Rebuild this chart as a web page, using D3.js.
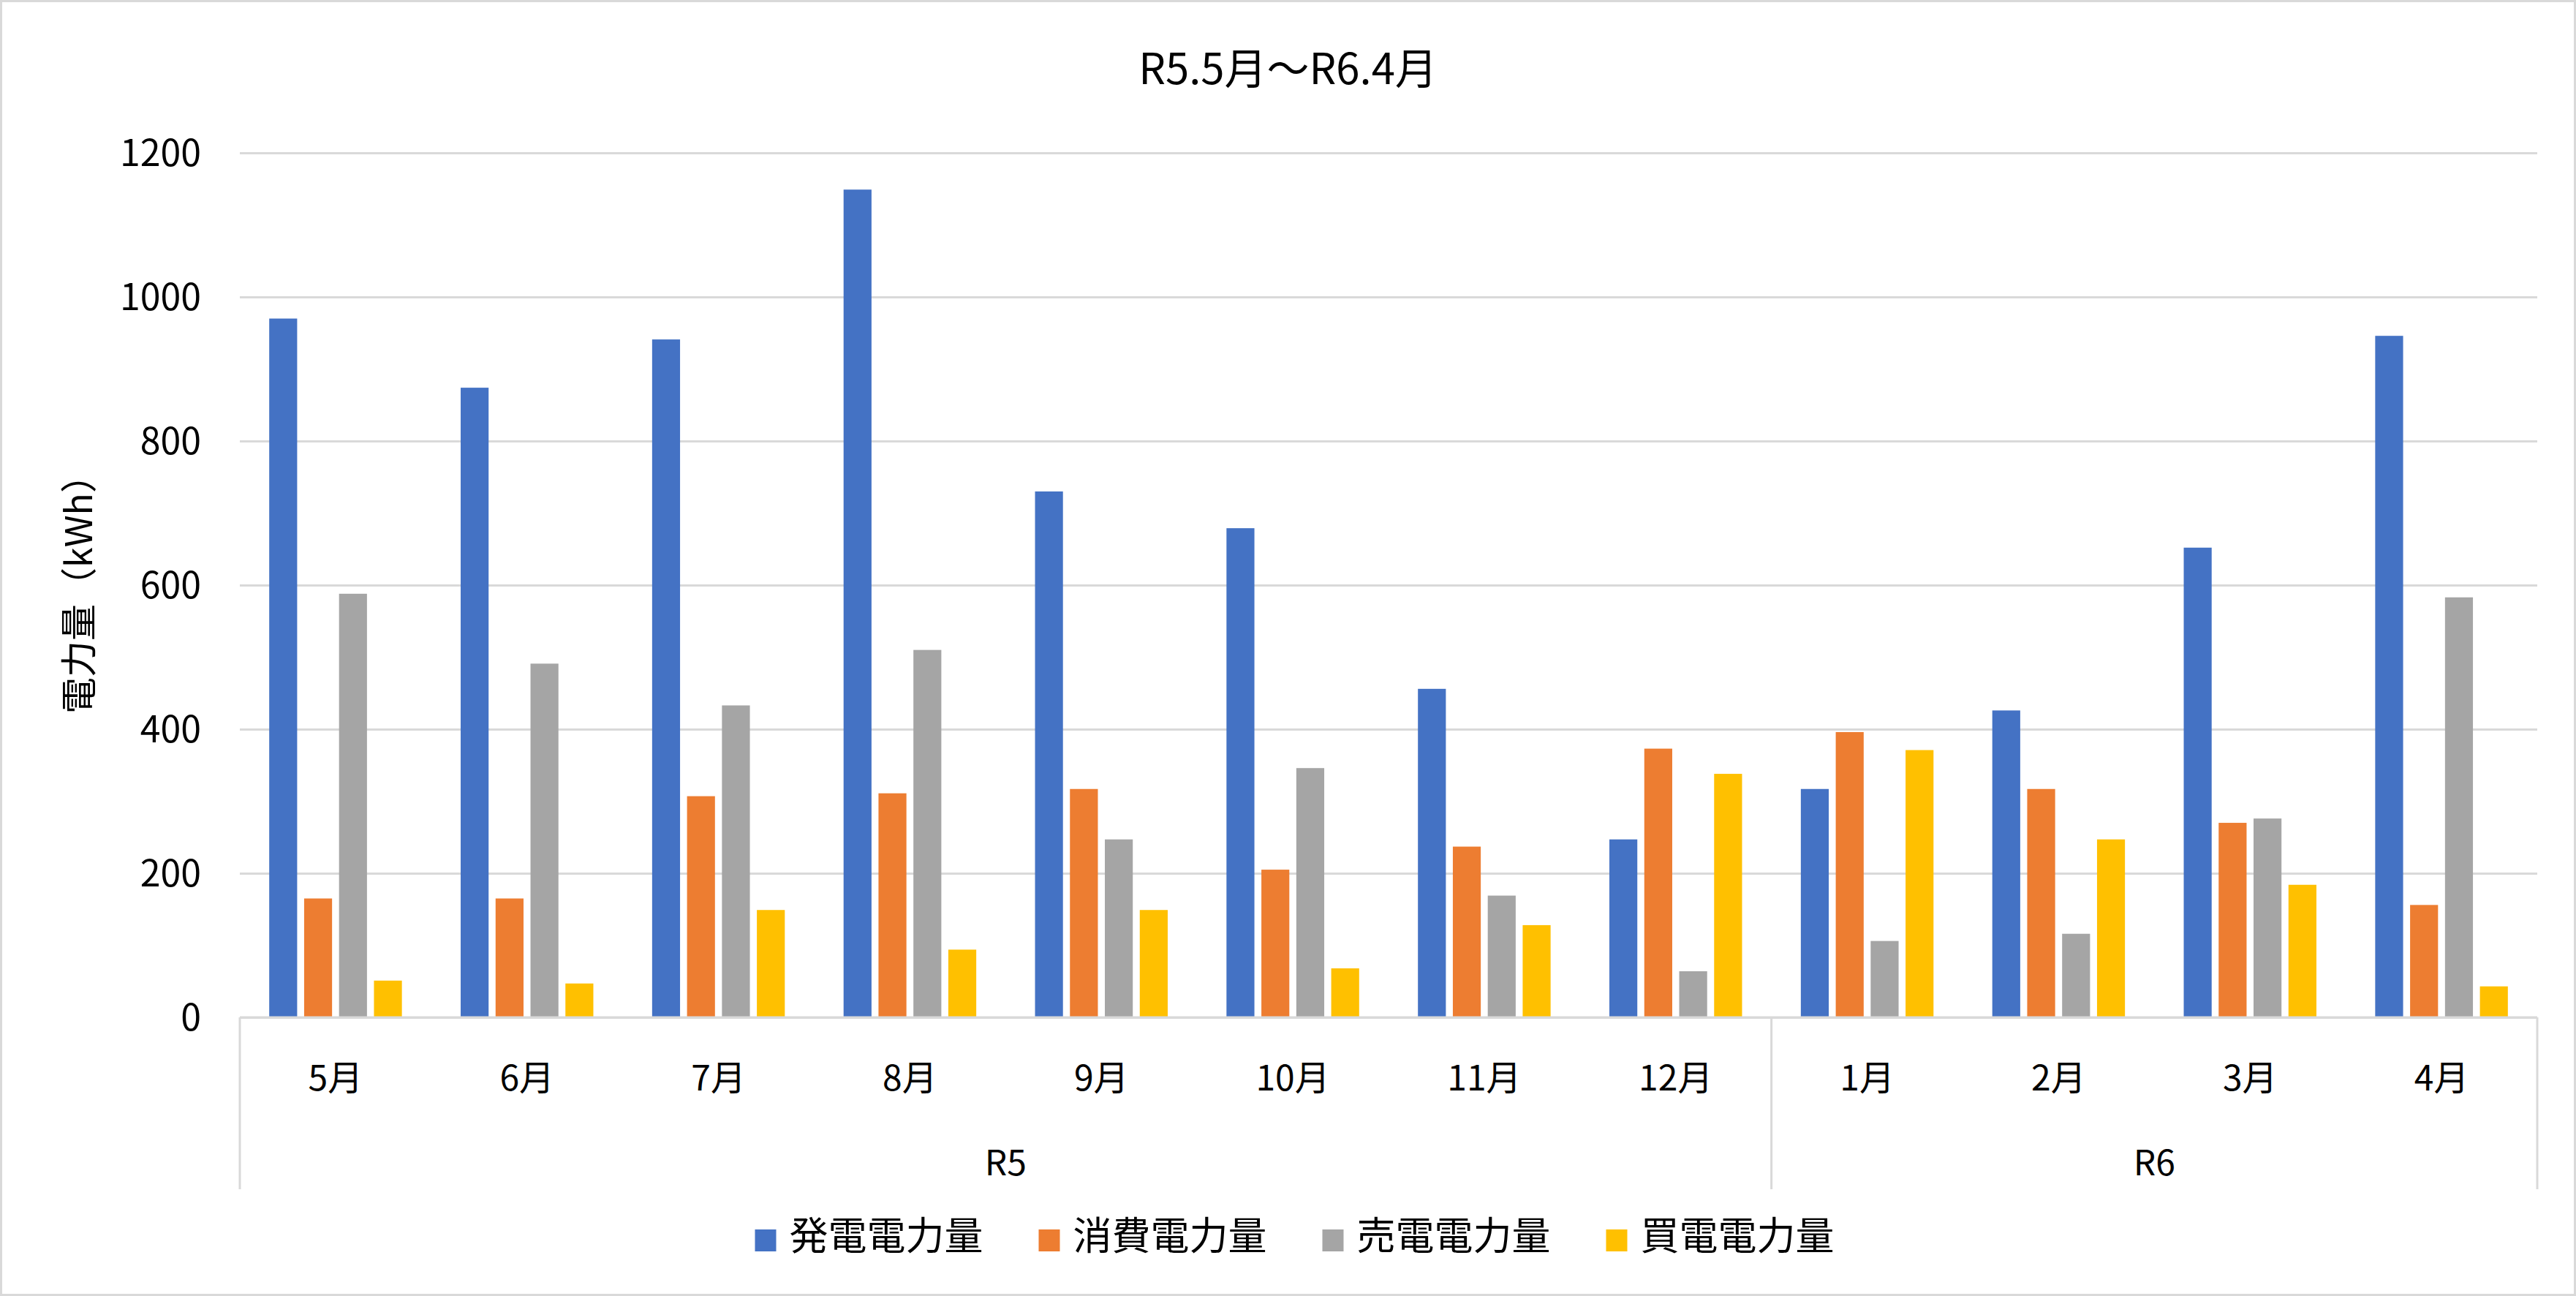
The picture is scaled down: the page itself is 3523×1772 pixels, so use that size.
<!DOCTYPE html>
<html lang="ja">
<head>
  <meta charset="UTF-8" />
  <title>R5.5月～R6.4月</title>
  <script src="https://cdnjs.cloudflare.com/ajax/libs/d3/7.8.2/d3.min.js"></script>
  <style>
    body {
      margin: 0;
      padding: 0;
      background: #fff;
    }
    svg {
      display: block;
      font-family: "Noto Sans CJK JP", "Noto Sans", sans-serif;
    }
    .grid line {
      stroke: #d9d9d9;
      stroke-width: 3px;
    }
    .label {
      fill: #000;
    }
  </style>
</head>
<body>

<svg id="chart"></svg>

<script>
// ---- data ----
const months = ["5月", "6月", "7月", "8月", "9月", "10月", "11月", "12月", "1月", "2月", "3月", "4月"];
const monthYear = ["R5", "R5", "R5", "R5", "R5", "R5", "R5", "R5", "R6", "R6", "R6", "R6"];
const years = ["R5", "R6"];

const seriesNames = ["発電電力量", "消費電力量", "売電電力量", "買電電力量"];
const generated = [970, 874, 941, 1149, 730, 679, 456, 247, 317, 426, 652, 946];
const consumed  = [165, 165, 307, 311, 317, 205, 237, 373, 396, 317, 270, 156];
const sold      = [588, 491, 433, 510, 247, 346, 169, 64, 106, 116, 276, 583];
const bought    = [51, 47, 149, 94, 149, 68, 128, 338, 371, 247, 184, 43];

const yTicks = [0, 200, 400, 600, 800, 1000, 1200];
const colors = ["#4472c4", "#ed7d31", "#a5a5a5", "#ffc000"];

const seriesValues = [generated, consumed, sold, bought];

// ---- layout ----
const W = 3523, H = 1772;
const plot = { left: 328, right: 3470, top: 209, bottom: 1391 };

const svg = d3.select("#chart").attr("width", W).attr("height", H);

// chart border
svg.append("rect")
  .attr("x", 1.5).attr("y", 1.5)
  .attr("width", W - 3).attr("height", H - 3)
  .attr("fill", "#fff")
  .attr("stroke", "#d9d9d9")
  .attr("stroke-width", 3);

const x0 = d3.scaleBand()
  .domain(months)
  .range([plot.left, plot.right])
  .paddingInner(0.307)
  .paddingOuter(0.1535);

const x1 = d3.scaleBand()
  .domain(seriesNames)
  .range([0, x0.bandwidth()])
  .paddingInner(0.2);

const y = d3.scaleLinear()
  .domain([0, 1200])
  .range([plot.bottom, plot.top]);

// gridlines
const grid = svg.append("g")
  .attr("class", "grid")
  .attr("transform", `translate(${plot.left},0)`)
  .call(d3.axisLeft(y).tickValues(yTicks).tickSize(-(plot.right - plot.left)).tickFormat(""));
grid.select(".domain").remove();

// y tick labels
svg.append("g")
  .selectAll("text")
  .data(yTicks)
  .join("text")
  .attr("class", "label")
  .attr("x", 275)
  .attr("y", d => y(d) + 18)
  .attr("text-anchor", "end")
  .attr("font-size", 50)
  .text(d => d);

// bars
const rows = months.map((m, i) => ({ month: m, values: seriesNames.map((s, j) => ({ series: s, value: seriesValues[j][i], color: colors[j] })) }));

svg.append("g")
  .selectAll("g")
  .data(rows)
  .join("g")
  .attr("transform", d => `translate(${x0(d.month)},0)`)
  .selectAll("rect")
  .data(d => d.values)
  .join("rect")
  .attr("x", d => x1(d.series))
  .attr("y", d => y(d.value))
  .attr("width", x1.bandwidth())
  .attr("height", d => y(0) - y(d.value))
  .attr("fill", d => d.color);

// category axis (two levels)
const axisColor = "#d9d9d9";
const axisG = svg.append("g");
axisG.append("line")
  .attr("x1", plot.left).attr("x2", plot.right)
  .attr("y1", y(0)).attr("y2", y(0))
  .attr("stroke", axisColor).attr("stroke-width", 3);

const yearSpans = years.map(yr => {
  const idx = monthYear.map((v, i) => v === yr ? i : -1).filter(i => i >= 0);
  const step = x0.step();
  const start = x0(months[idx[0]]) - x0.paddingOuter() * step;
  const end = x0(months[idx[idx.length - 1]]) + x0.bandwidth() + x0.paddingOuter() * step;
  return { year: yr, start, end };
});

const sepX = [plot.left, ...yearSpans.map(d => d.end)];
axisG.selectAll(".sep")
  .data(sepX)
  .join("line")
  .attr("class", "sep")
  .attr("x1", d => d).attr("x2", d => d)
  .attr("y1", y(0)).attr("y2", 1626)
  .attr("stroke", axisColor).attr("stroke-width", 3);

axisG.selectAll(".month")
  .data(months)
  .join("text")
  .attr("class", "label month")
  .attr("x", d => x0(d) + x0.bandwidth() / 2)
  .attr("y", 1491)
  .attr("text-anchor", "middle")
  .attr("font-size", 48)
  .text(d => d);

axisG.selectAll(".year")
  .data(yearSpans)
  .join("text")
  .attr("class", "label year")
  .attr("x", d => (d.start + d.end) / 2)
  .attr("y", 1607)
  .attr("text-anchor", "middle")
  .attr("font-size", 48)
  .text(d => d.year);

// y axis title
svg.append("text")
  .attr("class", "label")
  .attr("transform", `translate(104,${(plot.top + plot.bottom) / 2}) rotate(-90)`)
  .attr("text-anchor", "middle")
  .attr("dominant-baseline", "central")
  .attr("font-size", 50)
  .text("電力量（kWh）");

// title
svg.append("text")
  .attr("class", "label")
  .attr("x", W / 2)
  .attr("y", 115)
  .attr("text-anchor", "middle")
  .attr("font-size", 58)
  .text("R5.5月～R6.4月");

// legend
const legend = svg.append("g");
const items = legend.selectAll("g")
  .data(seriesNames)
  .join("g");
items.append("rect")
  .attr("width", 29).attr("height", 30)
  .attr("y", 1681)
  .attr("fill", (d, i) => colors[i]);
items.append("text")
  .attr("class", "label")
  .attr("x", 47)
  .attr("y", 1709)
  .attr("font-size", 53)
  .text(d => d);

let offset = 0;
const widths = [];
items.each(function () {
  const w = 47 + d3.select(this).select("text").node().getComputedTextLength();
  widths.push(offset);
  offset += w + 76;
});
const total = offset - 76;
const legendStart = W / 2 - total / 2 + 9;
items.attr("transform", (d, i) => `translate(${legendStart + widths[i]},0)`);
</script>

</body>
</html>
